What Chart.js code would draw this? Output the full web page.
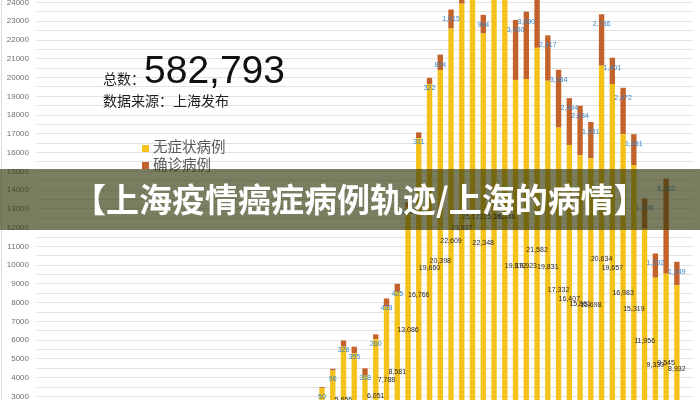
<!DOCTYPE html>
<html>
<head>
<meta charset="utf-8">
<script src="https://cdn.jsdelivr.net/npm/chart.js@4.4.0/dist/chart.umd.min.js"></script>
<style>
body { margin: 0; background: #fff; }
#wrap { position: relative; width: 700px; height: 400px; overflow: hidden; font-family: "Noto Sans CJK SC", sans-serif; }
#wrap canvas { position: absolute; left: 0; top: 0; }
.t { position: absolute; white-space: nowrap; color: #1e1e1e; }
.sw { position: absolute; width: 7px; height: 7px; }
#edge { position: absolute; left: 1px; top: 0; width: 1px; height: 400px; background: #dcdcdc; }
#banner { position: absolute; left: 0; top: 169px; width: 700px; height: 61px; background: rgba(50, 55, 10, 0.65); }
#banner span { position: absolute; left: 73px; top: -1px; font-size: 33px; line-height: 61px; font-weight: 700; color: #fff; white-space: nowrap; }
</style>
</head>
<body>
<div id="wrap">
  <canvas id="chart" width="700" height="400"></canvas>
  <div id="edge"></div>
  <div class="t" style="left:103px;top:71px;font-size:14px;line-height:14px;">总数：</div>
  <div class="t" style="left:144px;top:50px;font-size:39px;line-height:39px;font-family:'Liberation Sans',Arial,sans-serif;color:#111;">582,793</div>
  <div class="t" style="left:103px;top:93px;font-size:14px;line-height:14px;">数据来源：上海发布</div>
  <div class="sw" style="left:142px;top:145px;background:#f4c21b;"></div>
  <div class="t" style="left:153px;top:138px;font-size:14.5px;line-height:15px;color:#5a5a5a;">无症状病例</div>
  <div class="sw" style="left:142px;top:162px;background:#c4622b;"></div>
  <div class="t" style="left:153px;top:156px;font-size:14.5px;line-height:15px;color:#5a5a5a;">确诊病例</div>
  <div id="banner"><span>【上海疫情癌症病例轨迹/上海的病情】</span></div>
</div>
<script>
// days from 3/1 to 4/30; bars before 3/27 sit below the visible part of the axis
const dates = [
  '3/1','3/2','3/3','3/4','3/5','3/6','3/7','3/8','3/9','3/10',
  '3/11','3/12','3/13','3/14','3/15','3/16','3/17','3/18','3/19','3/20',
  '3/21','3/22','3/23','3/24','3/25','3/26','3/27','3/28','3/29','3/30',
  '3/31','4/1','4/2','4/3','4/4','4/5','4/6','4/7','4/8','4/9',
  '4/10','4/11','4/12','4/13','4/14','4/15','4/16','4/17','4/18','4/19',
  '4/20','4/21','4/22','4/23','4/24','4/25','4/26','4/27','4/28','4/29','4/30'
];
const hidden = new Array(26).fill(null); // 3/1 - 3/26, not visible in the picture

// 无症状病例 3/27 - 4/29
const asymptomatic = hidden.concat([
  3450, 4381, 5656, 5298, 4144, 6051, 7788, 8581, 13086, 16766,
  19660, 20398, 22609, 23937, 25173, 22348, 25141, 25146, 19872, 19923,
  21582, 19831, 17332, 16407, 15861, 15698, 20634, 19657, 16983, 15319,
  11956, 9330, 9545, 8932, null
]);
// 确诊病例 3/27 - 4/29
const confirmed = hidden.concat([
  50, 96, 326, 355, 358, 260, 438, 425, 268, 311,
  322, 824, 1015, 1006, 914, 994, 1189, 2573, 3200, 3590,
  3238, 2417, 3084, 2494, 2634, 1931, 2736, 1401, 2472, 1661,
  1606, 1292, 5062, 1249, null
]);

// labelled y ticks; a fainter line sits halfway between each
const yTicks = [3000, 4000, 5000, 6000, 7000, 8000, 9000, 10000, 11000, 12000, 13000,
  14000, 15000, 16000, 17000, 18000, 19000, 20000, 21000, 22000, 23000, 24000];
const yMin = 2813;
const yMax = 24133;

//draw value labels like the Excel chart: asymptomatic centred, confirmed just inside the top
const barLabels = {
  id: 'barLabels',
  afterDatasetsDraw(chart) {
    const { ctx, scales: { x, y } } = chart;
    ctx.save();
    ctx.font = '7px "Liberation Sans", Arial, sans-serif';
    ctx.textAlign = 'center';
    ctx.textBaseline = 'middle';
    for (let i = 0; i < dates.length; i++) {
      const a = asymptomatic[i];
      const c = confirmed[i];
      if (a == null) continue;
      const px = x.getPixelForValue(i);
      ctx.fillStyle = '#262626';
      ctx.fillText(a.toLocaleString('en-US'), px, y.getPixelForValue(a / 2));
      ctx.fillStyle = '#3a82c4';
      ctx.fillText(c.toLocaleString('en-US'), px, y.getPixelForValue(a + c) + 10);
    }
    ctx.restore();
  }
};

new Chart(document.getElementById('chart'), {
  type: 'bar',
  plugins: [barLabels],
  data: {
    labels: dates,
    datasets: [
      { label: '无症状病例', data: asymptomatic, backgroundColor: '#f4c21b', barPercentage: 1, categoryPercentage: 0.5 },
      { label: '确诊病例', data: confirmed, backgroundColor: '#c4622b', barPercentage: 1, categoryPercentage: 0.5 }
    ]
  },
  options: {
    responsive: false,
    animation: false,
    layout: { padding: { left: 0, right: 7, top: 0, bottom: 0 } },
    plugins: {
      legend: { display: false },
      tooltip: { enabled: false }
    },
    scales: {
      x: { stacked: true, display: false },
      y: {
        stacked: true,
        min: yMin,
        max: yMax,
        afterBuildTicks: s => {
          const list = [];
          yTicks.forEach(v => { list.push({ value: v }); if (v + 500 < yMax) list.push({ value: v + 500 }); });
          s.ticks = list;
        },
        afterFit: s => {
          s.width = 37;
          s.paddingTop = 0;
          s.paddingBottom = 0;
        },
        ticks: {
          autoSkip: false,
          padding: 8,
          color: '#6e6e6e',
          font: { size: 8, family: 'Liberation Sans' },
          callback: v => (v % 1000 === 0 ? String(v) : '')
        },
        grid: { color: '#e2e2e2', drawTicks: false },
        border: { display: false }
      }
    }
  }
});
</script>
</body>
</html>
